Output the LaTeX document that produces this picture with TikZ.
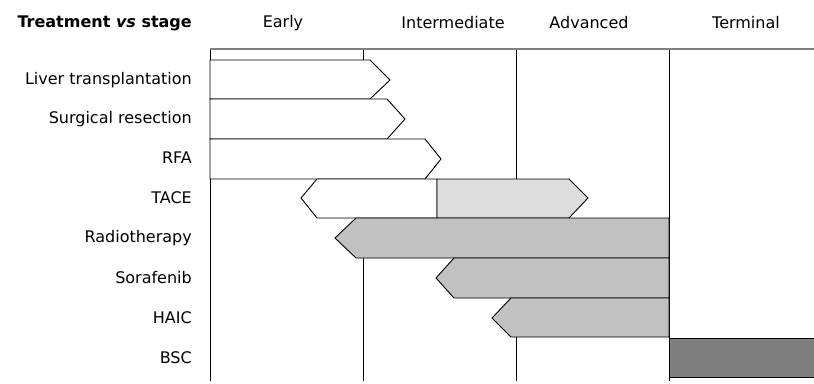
\documentclass[tikz,border=0pt]{standalone}
\usepackage{fontspec}
\setmainfont{DejaVu Sans}
\usetikzlibrary{positioning}
\definecolor{barLight}{RGB}{220, 221, 220}
\definecolor{barMid}{RGB}{192, 193, 192}
\definecolor{barDark}{RGB}{127, 127, 127}
\definecolor{rulegray}{RGB}{128, 128, 128}
\tikzset{
    rowlabel/.style={anchor=east, font=\fontsize{16}{18}\selectfont, inner sep=0pt},
    stagelabel/.style={font=\fontsize{16}{18}\selectfont, inner sep=0pt},
    bar/.style={draw=black, line width=0.9pt, line join=miter},
    gridline/.style={draw=black, line width=0.8pt},
}

\begin{document}
\begin{tikzpicture}[x=1pt, y=-1pt]
                \useasboundingbox (0, 0) rectangle (814, 383);
                % Header
                \node[rowlabel, font=\fontsize{16}{18}\selectfont\bfseries] (head) at (192, 23) {Treatment \textit{vs} stage};
                \node[stagelabel] (early) at (283, 23) {Early};
                \node[stagelabel] (inter) at (453, 23) {Intermediate};
                \node[stagelabel] (adv) at (589, 23) {Advanced};
                \node[stagelabel] (term) at (746, 23) {Terminal};

                % Grid
                \foreach \gx in {210, 363, 516, 669}
                    \draw[gridline] (\gx, 49) -- (\gx, 381);
                \draw[draw=rulegray, line width=1.6pt] (210, 49) -- (814, 49);

                % Treatments
                \node[rowlabel] (liver) at (192, 80) {Liver transplantation};
                \node[rowlabel] (surg) at (192, 119) {Surgical resection};
                \node[rowlabel] (rfa) at (192, 158) {RFA};
                \node[rowlabel] (tace) at (192, 198) {TACE};
                \node[rowlabel] (radio) at (192, 238) {Radiotherapy};
                \node[rowlabel] (sora) at (192, 278) {Sorafenib};
                \node[rowlabel] (haic) at (192, 318) {HAIC};
                \node[rowlabel] (bsc) at (192, 358) {BSC};

                % Bars
                \filldraw[bar, fill=white] (210, 60) -- (370, 60) -- (390, 80) -- (370, 99) -- (210, 99) -- cycle;
                \filldraw[bar, fill=white] (210, 99) -- (387, 99) -- (405, 119) -- (387, 139) -- (210, 139) -- cycle;
                \filldraw[bar, fill=white] (210, 139) -- (425, 139) -- (441, 159) -- (425, 179) -- (210, 179) -- cycle;
                \filldraw[bar, fill=white] (317, 179) -- (437, 179) -- (437, 218) -- (317, 218) -- (301, 198) -- cycle;
                \filldraw[bar, fill=barLight] (437, 179) -- (569, 179) -- (588, 198) -- (569, 218) -- (437, 218) -- cycle;
                \filldraw[bar, fill=barMid] (356, 218) -- (669, 218) -- (669, 258) -- (356, 258) -- (335, 238) -- cycle;
                \filldraw[bar, fill=barMid] (454, 258) -- (669, 258) -- (669, 298) -- (454, 298) -- (436, 278) -- cycle;
                \filldraw[bar, fill=barMid] (511, 298) -- (669, 298) -- (669, 337) -- (511, 337) -- (492, 318) -- cycle;
                \fill[barDark] (669, 338) rectangle (814, 377);
                \draw[bar] (814, 338) -- (669, 338) -- (669, 377) -- (814, 377);
            \end{tikzpicture}
\end{document}
